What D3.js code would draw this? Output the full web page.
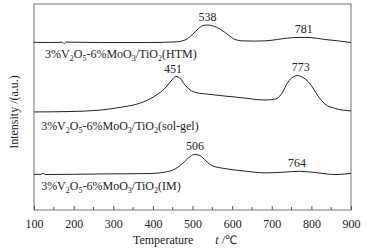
<!DOCTYPE html>
<html>
<head>
<meta charset="utf-8">
<script src="https://cdn.jsdelivr.net/npm/d3@7"></script>
<style>
  body { margin: 0; background: #fff; }
  text { font-family: "Liberation Serif", "Times New Roman", serif; fill: #222; }
</style>
</head>
<body>
<div id="chart"></div>
<script>
// Temperature (°C) and intensity (a.u.)
const htmTemp = [100, 140, 172, 176, 181, 267, 393, 456, 481, 499, 514, 527, 539, 552, 569, 590, 607, 625, 658, 696, 733, 772, 797, 834, 872, 900];
const htmVal  = [81.4, 81.3, 81.4, 80.7, 81.5, 81.3, 81.3, 81.6, 82.5, 85, 87.9, 89.6, 89.8, 89.3, 87.9, 85, 82.8, 82.1, 82, 82.3, 83.3, 83.8, 83.7, 82.8, 82, 81.3];

const solTemp = [100, 191, 267, 317, 368, 405, 431, 448, 458, 468, 481, 494, 509, 544, 620, 683, 711, 726, 741, 754, 764, 776, 797, 817, 834, 860, 900];
const solVal  = [47.6, 47.8, 48.5, 49.8, 51.9, 55.3, 59.2, 63.1, 64.8, 64.1, 60.7, 58.3, 57, 56.1, 54.6, 53.4, 53.9, 56.8, 62.1, 64.6, 65.3, 64.6, 61.2, 55.3, 51.5, 49.3, 48.1];

const imTemp = [100, 118, 123, 128, 267, 393, 431, 456, 476, 494, 506, 519, 534, 549, 582, 632, 683, 733, 771, 809, 860, 900];
const imVal  = [17.3, 17.3, 17.9, 17.2, 17.5, 17.7, 18.4, 19.9, 22.8, 25.9, 27, 26.4, 23.8, 21.6, 20.1, 18.9, 18, 18.4, 18.8, 18.2, 17.2, 17.8];

const seriesNames = ["HTM", "sol-gel", "IM"];
const peakLabels = [
  { t: 538, v: 89.8, text: "538" },
  { t: 781, v: 83.8, text: "781" },
  { t: 451, v: 64.8, text: "451" },
  { t: 773, v: 65.3, text: "773" },
  { t: 506, v: 27, text: "506" },
  { t: 764, v: 18.8, text: "764" }
];
const labelPos = [
  { t: 128, v: 73.8 },
  { t: 118, v: 38.8 },
  { t: 118, v: 9.7 }
];
const xTicks = [100, 200, 300, 400, 500, 600, 700, 800, 900];
const xMinor = [150, 250, 350, 450, 550, 650, 750, 850];

const W = 367, H = 249;
const margin = { top: 4, right: 16, bottom: 39, left: 34 };
const width = W - margin.left - margin.right;
const height = H - margin.top - margin.bottom;

const svg = d3.select("#chart").append("svg")
  .attr("width", W).attr("height", H);
const g = svg.append("g")
  .attr("transform", "translate(" + margin.left + "," + margin.top + ")");

const x = d3.scaleLinear().domain([100, 900]).range([0, width]);
const y = d3.scaleLinear().domain([0, 100]).range([height, 0]);

// frame
g.append("rect")
  .attr("x", 0).attr("y", 0)
  .attr("width", width).attr("height", height)
  .attr("fill", "none").attr("stroke", "#8a8a8a").attr("stroke-width", 1.2);

// inward ticks on the bottom axis
g.append("g")
  .attr("transform", "translate(0," + height + ")")
  .call(d3.axisBottom(x).tickValues(xTicks).tickSizeInner(-4).tickSizeOuter(0).tickPadding(9))
  .call(a => a.select(".domain").remove())
  .call(a => a.selectAll("line").attr("stroke", "#555"))
  .call(a => a.selectAll("text")
    .style("font-family", "Liberation Serif, serif")
    .style("font-size", "12px").attr("fill", "#222"));

g.append("g")
  .selectAll("line")
  .data(xMinor)
  .join("line")
  .attr("x1", d => x(d)).attr("x2", d => x(d))
  .attr("y1", height).attr("y2", height - 3)
  .attr("stroke", "#555");

// curves
const line = d3.line()
  .x(d => x(d[0]))
  .y(d => y(d[1]))
  .curve(d3.curveMonotoneX);

const curves = [
  d3.zip(htmTemp, htmVal),
  d3.zip(solTemp, solVal),
  d3.zip(imTemp, imVal)
];

g.selectAll(".curve")
  .data(curves)
  .join("path")
  .attr("class", "curve")
  .attr("d", line)
  .attr("fill", "none")
  .attr("stroke", "#222")
  .attr("stroke-width", 1);

// peak labels
g.selectAll(".peak")
  .data(peakLabels)
  .join("text")
  .attr("class", "peak")
  .attr("x", d => x(d.t))
  .attr("y", d => y(d.v) - 4)
  .attr("text-anchor", "middle")
  .style("font-size", "12px")
  .text(d => d.text);

// series labels with subscripts
seriesNames.forEach((name, i) => {
  const t = g.append("text")
    .attr("x", x(labelPos[i].t))
    .attr("y", y(labelPos[i].v))
    .style("font-size", "12px");
  const parts = [["3%V", 0], ["2", 1], ["O", 0], ["5", 1], ["-6%MoO", 0], ["3", 1], ["/TiO", 0], ["2", 1], ["(" + name + ")", 0]];
  let shifted = false;
  parts.forEach(p => {
    let dy = 0;
    if (p[1] && !shifted) { dy = 3; shifted = true; }
    else if (!p[1] && shifted) { dy = -3; shifted = false; }
    t.append("tspan")
      .attr("dy", dy)
      .style("font-size", p[1] ? "8px" : "12px")
      .text(p[0]);
  });
});

// axis titles
g.append("text")
  .attr("x", x(426))
  .attr("y", height + 34)
  .attr("text-anchor", "middle")
  .style("font-size", "12px")
  .text("Temperature");

g.append("text")
  .attr("x", x(585))
  .attr("y", height + 34)
  .attr("text-anchor", "middle")
  .style("font-size", "12px")
  .html('<tspan font-style="italic">t</tspan> /℃');

svg.append("text")
  .attr("transform", "translate(18,112) rotate(-90)")
  .attr("text-anchor", "middle")
  .style("font-size", "12px")
  .text("Intensity /(a.u.)");
</script>
</body>
</html>
